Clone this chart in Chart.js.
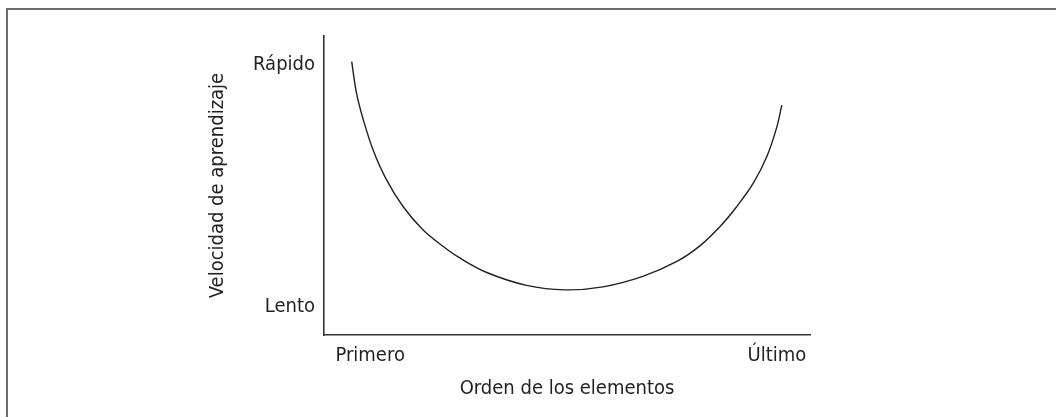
<!DOCTYPE html>
<html>
<head>
<meta charset="utf-8">
<script src="https://cdn.jsdelivr.net/npm/chart.js@4/dist/chart.umd.min.js"></script>
<style>
  html, body { margin: 0; padding: 0; background: #fff; overflow: hidden; }
  #wrap { position: relative; width: 1056px; height: 417px; }
  #frame {
    position: absolute; left: 6px; top: 8px; width: 1100px; height: 500px;
    border: 2px solid #6b6b6b; box-sizing: border-box;
  }
  #chart { position: absolute; left: 0; top: 0; }
</style>
</head>
<body>
<div id="wrap">
  <div id="frame"></div>
  <canvas id="chart" width="1056" height="417"></canvas>
</div>
<script>
// curve: position in the list (0-100) vs learning speed (0-100)
const orderPos = [5.7, 6.7, 8.1, 10.1, 12.9, 16.3, 20.4, 24.6, 27.6, 33.5, 41.7, 49.6,
                  57.4, 65.6, 72.6, 77.4, 81.5, 84.9, 88.3, 91.1, 93.2, 94.2]
const speed    = [91.4, 80.8, 71.9, 61.9, 51.8, 42.9, 35.1, 29.5, 26.1, 20.9, 16.6, 15.1,
                  16.1, 19.6, 24.6, 29.9, 36.3, 42.9, 50.7, 59.6, 69.7, 76.9]

// tick labels and where they sit on each scale
const xTickLabels = ['Primero', 'Último']
const xTickValues = [9.5, 93.2]
const yTickLabels = ['Lento', 'Rápido']
const yTickValues = [9.4, 90.3]

const xTitle = 'Orden de los elementos'
const yTitle = 'Velocidad de aprendizaje'

const INK = '#231f20'
const FONT = { family: "'Liberation Sans Narrow', 'DejaVu Sans Condensed', sans-serif", size: 20 }

new Chart(document.getElementById('chart'), {
  type: 'line',
  data: {
    datasets: [{
      data: orderPos.map((x, i) => ({ x, y: speed[i] })),
      borderColor: INK,
      borderWidth: 1.4,
      pointRadius: 0,
      tension: 0.35,
      fill: false,
    }],
  },
  options: {
    responsive: false,
    animation: false,
    layout: { padding: { left: 206, top: 36, right: 246, bottom: 16 } },
    plugins: { legend: { display: false }, tooltip: { enabled: false } },
    scales: {
      x: {
        type: 'linear', min: 0, max: 100,
        grid: { display: false, drawTicks: false },
        border: { display: true, color: '#333', width: 1.6 },
        afterBuildTicks: s => { s.ticks = xTickValues.map(v => ({ value: v })) },
        afterFit: s => { s.height = 66 },
        ticks: {
          padding: 9, color: INK, font: FONT, maxRotation: 0, autoSkip: false,
          callback: v => xTickLabels[xTickValues.indexOf(v)],
        },
        title: { display: true, text: xTitle, color: INK, font: FONT, padding: 0 },
      },
      y: {
        type: 'linear', min: 0, max: 100,
        grid: { display: false, drawTicks: false },
        border: { display: true, color: '#333', width: 1.6 },
        afterBuildTicks: s => { s.ticks = yTickValues.map(v => ({ value: v })) },
        afterFit: s => { s.width = 118 },
        ticks: {
          padding: 9, color: INK, font: FONT, autoSkip: false,
          callback: v => yTickLabels[yTickValues.indexOf(v)],
        },
        title: { display: true, text: yTitle, color: INK, font: FONT, padding: 0 },
      },
    },
  },
})
</script>
</body>
</html>
